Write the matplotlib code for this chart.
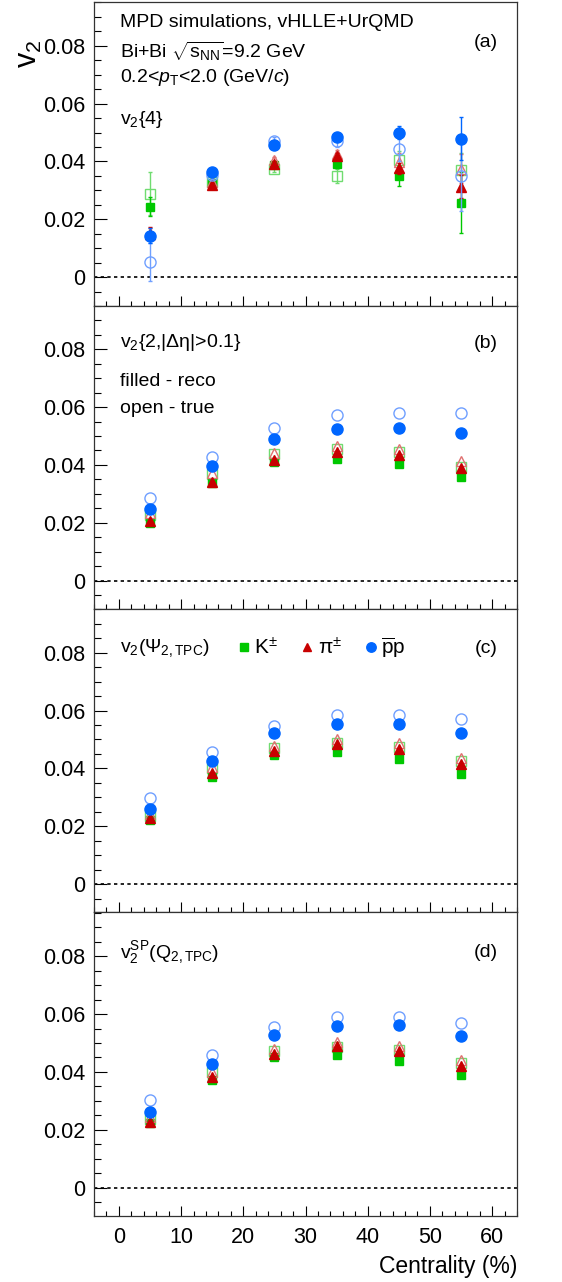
import numpy as np
import matplotlib
matplotlib.use("Agg")
import matplotlib.pyplot as plt
from matplotlib.ticker import MultipleLocator, FuncFormatter

plt.rcParams['font.family'] = ['Liberation Sans', 'DejaVu Sans']
plt.rcParams['mathtext.fontset'] = 'custom'
plt.rcParams['mathtext.rm'] = 'Liberation Sans'
plt.rcParams['mathtext.it'] = 'Liberation Sans:italic'
plt.rcParams['mathtext.bf'] = 'Liberation Sans:bold'

cent = [5, 15, 25, 35, 45, 55]

# (a) v2{4}
a_K_reco = [0.0244, 0.0324, 0.0389, 0.0390, 0.0350, 0.0258]
a_K_true = [0.0289, 0.0330, 0.0373, 0.0350, 0.0406, 0.0369]
a_pi_reco = [0.0150, 0.0319, 0.0392, 0.0420, 0.0376, 0.0313]
a_pi_true = [0.0150, 0.0330, 0.0404, 0.0425, 0.0398, 0.0375]
a_p_reco = [0.0144, 0.0365, 0.0458, 0.0486, 0.0500, 0.0479]
a_p_true = [0.0053, 0.0353, 0.0469, 0.0470, 0.0442, 0.0349]
a_K_reco_err = [0.0034, 0.0012, 0.0010, 0.0012, 0.0035, 0.0105]
a_K_true_err = [0.0075, 0.0012, 0.0010, 0.0025, 0.0030, 0.0060]
a_pi_reco_err = [0.0022, 0.0008, 0.0008, 0.0010, 0.0020, 0.0040]
a_pi_true_err = [0.0020, 0.0010, 0.0010, 0.0015, 0.0030, 0.0050]
a_p_reco_err = [0.0025, 0.0010, 0.0012, 0.0012, 0.0022, 0.0075]
a_p_true_err = [0.0065, 0.0015, 0.0015, 0.0020, 0.0040, 0.0120]

# (b) v2{2,|deta|>0.1}
b_K_reco = [0.0200, 0.0337, 0.0409, 0.0422, 0.0402, 0.0360]
b_K_true = [0.0227, 0.0369, 0.0438, 0.0455, 0.0446, 0.0394]
b_pi_reco = [0.0207, 0.0342, 0.0417, 0.0444, 0.0435, 0.0388]
b_pi_true = [0.0233, 0.0371, 0.0440, 0.0467, 0.0455, 0.0412]
b_p_reco = [0.0248, 0.0395, 0.0490, 0.0524, 0.0529, 0.0510]
b_p_true = [0.0285, 0.0429, 0.0528, 0.0571, 0.0579, 0.0580]

# (c) v2(Psi_2,TPC)
c_K_reco = [0.0222, 0.0372, 0.0447, 0.0458, 0.0433, 0.0382]
c_K_true = [0.0234, 0.0401, 0.0470, 0.0487, 0.0475, 0.0426]
c_pi_reco = [0.0230, 0.0383, 0.0460, 0.0483, 0.0467, 0.0414]
c_pi_true = [0.0242, 0.0404, 0.0479, 0.0501, 0.0487, 0.0437]
c_p_reco = [0.0260, 0.0426, 0.0524, 0.0554, 0.0554, 0.0524]
c_p_true = [0.0299, 0.0456, 0.0548, 0.0585, 0.0585, 0.0570]

# (d) v2^SP(Q_2,TPC)
d_K_reco = [0.0222, 0.0372, 0.0451, 0.0460, 0.0437, 0.0391]
d_K_true = [0.0236, 0.0401, 0.0471, 0.0486, 0.0476, 0.0430]
d_pi_reco = [0.0228, 0.0384, 0.0462, 0.0488, 0.0471, 0.0421]
d_pi_true = [0.0243, 0.0401, 0.0479, 0.0504, 0.0488, 0.0442]
d_p_reco = [0.0261, 0.0427, 0.0526, 0.0560, 0.0562, 0.0525]
d_p_true = [0.0303, 0.0459, 0.0555, 0.0591, 0.0591, 0.0569]

green, green_l = '#00c800', '#70dc70'
red, red_l = '#c80000', '#e07070'
blue, blue_l = '#0066ff', '#6f9fff'

fig, axes = plt.subplots(4, 1, figsize=(5.62, 12.82), dpi=100, sharex=True)
fig.subplots_adjust(left=0.1673, right=0.9199, top=0.9984, bottom=0.0515, hspace=0)

panels = [
    (a_K_reco, a_K_true, a_pi_reco, a_pi_true, a_p_reco, a_p_true),
    (b_K_reco, b_K_true, b_pi_reco, b_pi_true, b_p_reco, b_p_true),
    (c_K_reco, c_K_true, c_pi_reco, c_pi_true, c_p_reco, c_p_true),
    (d_K_reco, d_K_true, d_pi_reco, d_pi_true, d_p_reco, d_p_true),
]
errs_a = (a_K_reco_err, a_K_true_err, a_pi_reco_err, a_pi_true_err, a_p_reco_err, a_p_true_err)

styles = [  # marker, color, filled, size
    ('s', green_l, False, 6.5), ('s', green, True, 6.0),
    ('^', red_l, False, 7.0), ('^', red, True, 7.0),
    ('o', blue_l, False, 8.0), ('o', blue, True, 8.0),
]
order = [1, 0, 3, 2, 5, 4]  # true drawn first, reco on top

handles = None
for i, ax in enumerate(axes):
    data = panels[i]
    hs = []
    for k, idx in enumerate(order):
        m, col, filled, ms = styles[k]
        y = data[idx]
        if i == 0:
            ax.errorbar(cent, y, yerr=errs_a[idx], fmt='none', ecolor=col,
                        elinewidth=1.0, capsize=1.5, zorder=2 + k)
        ln, = ax.plot(cent, y, ls='none', marker=m, ms=ms,
                      mfc=col if filled else 'none',
                      mec=col, mew=1.0, zorder=3 + k)
        if filled:
            hs.append(ln)
    if i == 2:
        handles = hs
    ax.axhline(0, color='black', ls=(0, (2, 2)), lw=1.2, zorder=1)
    ax.set_xlim(-4, 64)
    ax.set_ylim(-0.0098, 0.0951)
    ax.yaxis.set_major_locator(MultipleLocator(0.02))
    ax.yaxis.set_minor_locator(MultipleLocator(0.005))
    ax.xaxis.set_major_locator(MultipleLocator(10))
    ax.xaxis.set_minor_locator(MultipleLocator(2))
    ax.yaxis.set_major_formatter(FuncFormatter(lambda v, p: '0' if abs(v) < 1e-9 else '%.2f' % v))
    ax.tick_params(axis='y', which='major', direction='in', length=9.5, width=0.8,
                   labelsize=15.5, pad=6, right=False)
    ax.tick_params(axis='y', which='minor', direction='in', length=5, width=0.8, right=False)
    ax.tick_params(axis='x', which='major', direction='in', length=7, width=0.8,
                   labelsize=15.5, pad=8, top=False)
    ax.tick_params(axis='x', which='minor', direction='in', length=3.5, width=0.8, top=False)
    for s in ax.spines.values():
        s.set_linewidth(0.9)
        s.set_color('#333333')

fs = 14
ax = axes[0]
ax.text(0.2, 0.0880, 'MPD simulations, vHLLE+UrQMD', fontsize=fs, va='center')
ax.text(0.2, 0.0780, r'Bi+Bi $\sqrt{\mathrm{s}_{\mathrm{NN}}}$=9.2 GeV', fontsize=fs, va='center')
ax.text(0.2, 0.0690, r'0.2<$p_{\mathrm{T}}$<2.0 (GeV/$c$)', fontsize=fs, va='center')
ax.text(0.2, 0.0545, r'$\mathrm{v}_{2}${4}', fontsize=fs, va='center')
ax.text(0.955, 0.0812, '(a)', fontsize=fs, va='center', ha='right', transform=ax.get_yaxis_transform())

ax = axes[1]
ax.text(0.2, 0.0822, r'$\mathrm{v}_{2}${2,|Δη|>0.1}', fontsize=fs, va='center')
ax.text(0.2, 0.0690, 'filled - reco', fontsize=fs, va='center')
ax.text(0.2, 0.0595, 'open - true', fontsize=fs, va='center')
ax.text(0.955, 0.0820, '(b)', fontsize=fs, va='center', ha='right', transform=ax.get_yaxis_transform())

ax = axes[2]
ax.text(0.2, 0.0815, r'$\mathrm{v}_{2}(\Psi_{2,\mathrm{TPC}})$', fontsize=fs, va='center')
ax.text(0.955, 0.0815, '(c)', fontsize=fs, va='center', ha='right', transform=ax.get_yaxis_transform())
ax.legend(handles, [r'K$^{\pm}$', r'π$^{\pm}$', r'$\overline{\mathrm{p}}\mathrm{p}$'],
          ncol=3, frameon=False, fontsize=15, loc='center left',
          bbox_to_anchor=(0.29, 0.872), handlelength=0.8, handletextpad=0.1,
          columnspacing=1.0, markerscale=0.85)

ax = axes[3]
ax.text(0.2, 0.0812, r'$\mathrm{v}_{2}^{\mathrm{SP}}(\mathrm{Q}_{2,\mathrm{TPC}})$', fontsize=fs, va='center')
ax.text(0.955, 0.0812, '(d)', fontsize=fs, va='center', ha='right', transform=ax.get_yaxis_transform())
ax.set_xlabel('Centrality (%)', fontsize=16.5, loc='right', labelpad=5)

fig.text(0.052, 1 - 54 / 1282, r'$\mathrm{v}_{2}$', fontsize=22, rotation=90, ha='center', va='center')

fig.savefig('out.png', dpi=100)
